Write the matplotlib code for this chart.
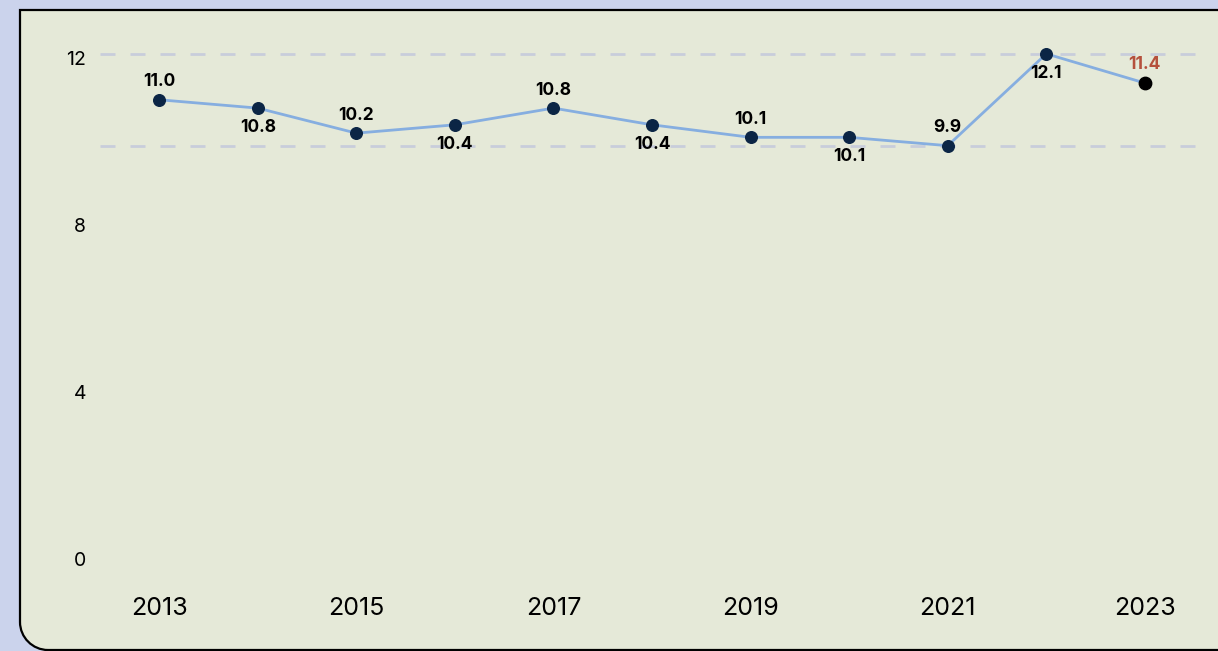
import matplotlib.pyplot as plt
from matplotlib.path import Path
from matplotlib.patches import PathPatch

years = [2013, 2014, 2015, 2016, 2017, 2018, 2019, 2020, 2021, 2022, 2023]
values = [11.0, 10.8, 10.2, 10.4, 10.8, 10.4, 10.1, 10.1, 9.9, 12.1, 11.4]
y_ticks = [0, 4, 8, 12]
x_ticks = [2013, 2015, 2017, 2019, 2021, 2023]

W, H = 1218, 651
fig = plt.figure(figsize=(W / 100, H / 100), dpi=100)
fig.patch.set_facecolor("#cbd3ec")
plt.rcParams["font.family"] = ["Inter", "DejaVu Sans"]


def fx(px):
    return px / W


def fy(py):
    return 1 - py / H


# panel with only the bottom-left corner rounded
r = 28
k = 0.45
verts = [
    (fx(1300), fy(10)), (fx(20), fy(10)), (fx(20), fy(650 - r)),
    (fx(20), fy(650 - r * k)), (fx(20 + r * k), fy(650)), (fx(20 + r), fy(650)),
    (fx(1300), fy(650)),
]
codes = [Path.MOVETO, Path.LINETO, Path.LINETO,
         Path.CURVE4, Path.CURVE4, Path.CURVE4, Path.LINETO]
panel = PathPatch(Path(verts, codes), transform=fig.transFigure,
                  facecolor="#e5e9d8", edgecolor="black", linewidth=1.6, zorder=-5)
fig.patches.append(panel)

ax = fig.add_axes([fx(100), fy(580), fx(1205) - fx(100), fy(30) - fy(580)])
ax.set_zorder(5)
ax.set_facecolor("none")
ax.set_xlim(2012.4, 2023.61)
ax.set_ylim((559 - 580) / 41.75, (559 - 30) / 41.75)

vmax, vmin = max(values), min(values)
for ref in (vmax, vmin):
    ax.axhline(ref, color="#c8cddb", linestyle=(0, (5.4, 5.4)), linewidth=2, zorder=1)

ax.plot(years, values, color="#86aee0", linewidth=2, zorder=2)
ax.scatter(years[:-1], values[:-1], s=70, color="#0b2545", zorder=3)
ax.scatter(years[-1:], values[-1:], s=80, color="black", zorder=3)

for i, (yr, v) in enumerate(zip(years, values)):
    above = i % 2 == 0
    color = "#b5503c" if i == len(years) - 1 else "black"
    ax.annotate(f"{v:.1f}", (yr, v), xytext=(0, 13 if above else -14),
                textcoords="offset points", ha="center",
                va="center", fontsize=12.5, fontweight="bold", color=color)

ax.set_xticks(x_ticks)
ax.set_xticklabels([str(t) for t in x_ticks], fontsize=18)
ax.set_yticks(y_ticks)
ax.set_yticklabels([str(t) for t in y_ticks], fontsize=14)
ax.tick_params(axis="x", length=0, pad=12.5)
ax.tick_params(axis="y", length=0, pad=10)
for s in ax.spines.values():
    s.set_visible(False)

fig.savefig("out.png", dpi=100, facecolor=fig.get_facecolor())
